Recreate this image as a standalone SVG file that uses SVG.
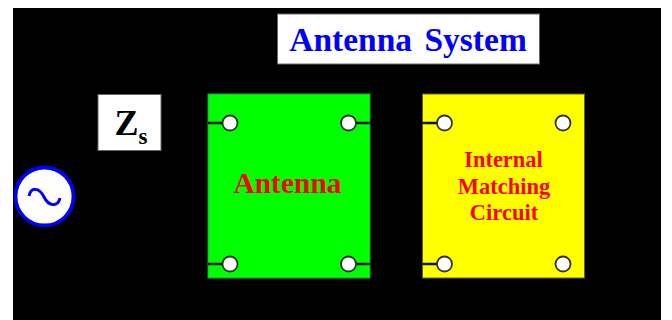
<svg xmlns="http://www.w3.org/2000/svg" width="672" height="320" viewBox="0 0 672 320">
<style>
.box{stroke:#666;stroke-width:1}
.t{font-family:"Liberation Serif","Times New Roman",serif;font-weight:bold}
.red{fill:#f00;text-anchor:middle}
.port{fill:#fff;stroke:#333;stroke-width:1.8}
.lead{stroke:#111;stroke-width:2.6;fill:none}
</style>
<rect width="672" height="320" fill="#fff"/>
<rect x="13" y="8" width="648" height="312" fill="#000"/>
<g id="title">
<rect class="box" x="277.5" y="14" width="262" height="50" fill="#fff"/>
<text class="t" x="408" y="51" font-size="33.500" fill="#00f" text-anchor="middle" word-spacing="4">Antenna System</text>
</g>
<g id="zs">
<rect class="box" x="98" y="94.500" width="63" height="56" fill="#fff"/>
<text class="t" x="114.500" y="135" font-size="36" fill="#000">Z<tspan font-size="23" dy="9">s</tspan></text>
</g>
<g id="source">
<circle cx="44.500" cy="196.500" r="29" fill="#fff" stroke="#00f" stroke-width="3.800"/>
<path d="M29 196C31 187 39 187 44 197S58 207 60 198" fill="none" stroke="#00f" stroke-width="3"/>
</g>
<g id="antenna">
<rect x="208" y="94" width="162" height="184" fill="#0f0" stroke="#1a5" stroke-width="1"/>
<text class="t red" x="287.500" y="193" font-size="29.500">Antenna</text>
</g>
<g id="matching">
<rect x="422.500" y="94" width="162" height="184" fill="#ff0" stroke="#660" stroke-width="1"/>
<text class="t red" x="503.500" y="167" font-size="22.500">Internal</text>
<text class="t red" x="504" y="193.500" font-size="22.500">Matching</text>
<text class="t red" x="504" y="220" font-size="22.500">Circuit</text>
</g>
<g id="connectors">
<path class="lead" d="M208 123H222M356 123H370M208 264H222M356 264H370M422.500 123H437M422.500 264H437"/>
</g>
<g id="ports">
<circle class="port" cx="230" cy="123" r="7.500"/>
<circle class="port" cx="348.500" cy="123" r="7.500"/>
<circle class="port" cx="230" cy="264" r="7.500"/>
<circle class="port" cx="348.500" cy="264" r="7.500"/>
<circle class="port" cx="444.500" cy="123" r="7.500"/>
<circle class="port" cx="563" cy="123" r="7.500"/>
<circle class="port" cx="444.500" cy="264" r="7.500"/>
<circle class="port" cx="563" cy="264" r="7.500"/>
</g>
</svg>
